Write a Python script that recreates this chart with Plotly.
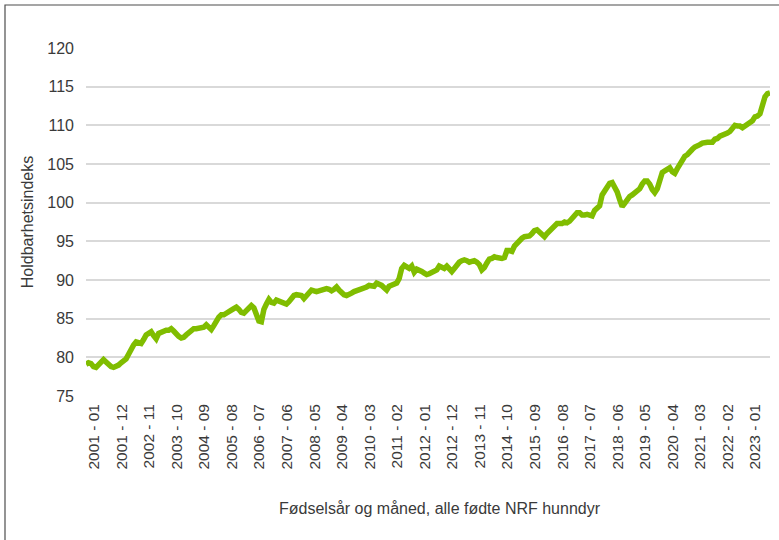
import plotly.graph_objects as go

# Monthly index values, 2001-01 .. 2023-10
values_2001 = [79.1, 79.3, 79.2, 78.8, 78.7, 79.1, 79.3, 79.7, 79.4, 79.0, 78.8, 78.7]
values_2002 = [78.8, 79.0, 79.3, 79.5, 79.8, 80.4, 81.1, 81.6, 82.0, 81.9, 81.8, 82.3]
values_2003 = [82.9, 83.1, 83.3, 82.8, 82.4, 83.1, 83.3, 83.4, 83.5, 83.5, 83.7, 83.4]
values_2004 = [83.0, 82.7, 82.5, 82.6, 82.9, 83.2, 83.6, 83.7, 83.7, 83.8, 83.9, 83.9]
values_2005 = [84.2, 84.0, 83.6, 84.1, 84.8, 85.2, 85.5, 85.5, 85.7, 86.0, 86.1, 86.3]
values_2006 = [86.5, 86.2, 85.8, 85.7, 86.1, 86.5, 86.7, 86.4, 85.3, 84.7, 84.6, 86.2]
values_2007 = [86.9, 87.5, 87.1, 87.0, 87.4, 87.3, 87.2, 87.0, 86.9, 87.2, 87.6, 88.0]
values_2008 = [88.1, 88.0, 88.0, 87.6, 87.9, 88.3, 88.7, 88.6, 88.5, 88.6, 88.7, 88.8]
values_2009 = [88.9, 88.8, 88.6, 88.8, 89.1, 88.7, 88.3, 88.1, 88.0, 88.1, 88.3, 88.5]
values_2010 = [88.6, 88.7, 88.8, 88.9, 89.1, 89.3, 89.3, 89.2, 89.6, 89.5, 89.3, 89.0]
values_2011 = [88.7, 89.2, 89.4, 89.5, 89.6, 90.2, 91.5, 91.9, 91.7, 91.5, 91.8, 91.0]
values_2012 = [91.4, 91.3, 91.1, 90.9, 90.7, 90.8, 91.0, 91.2, 91.3, 91.8, 91.7, 91.5]
values_2013 = [91.8, 91.5, 91.1, 91.5, 92.0, 92.3, 92.5, 92.6, 92.5, 92.3, 92.4, 92.5]
values_2014 = [92.3, 92.0, 91.3, 91.6, 92.2, 92.7, 92.8, 93.0, 92.9, 92.8, 92.8, 92.9]
values_2015 = [93.8, 93.8, 93.7, 94.4, 94.8, 95.1, 95.4, 95.6, 95.6, 95.7, 96.0, 96.4]
values_2016 = [96.5, 96.2, 95.9, 95.6, 96.0, 96.3, 96.7, 97.1, 97.3, 97.3, 97.3, 97.5]
values_2017 = [97.4, 97.6, 97.9, 98.3, 98.7, 98.7, 98.4, 98.4, 98.5, 98.4, 98.3, 99.0]
values_2018 = [99.4, 99.6, 101.0, 101.5, 102.0, 102.5, 102.6, 102.1, 101.4, 100.4, 99.5, 99.9]
values_2019 = [100.5, 100.8, 101.0, 101.2, 101.4, 101.8, 102.4, 102.8, 102.8, 102.4, 101.7, 101.3]
values_2020 = [101.8, 103.0, 103.9, 104.1, 104.3, 104.5, 104.0, 103.8, 104.4, 105.0, 105.6, 106.0]
values_2021 = [106.2, 106.7, 106.9, 107.2, 107.3, 107.5, 107.7, 107.8, 107.8, 107.8, 107.8, 108.2]
values_2022 = [108.3, 108.6, 108.7, 108.8, 109.0, 109.2, 109.6, 110.0, 109.9, 109.9, 109.7, 109.9]
values_2023 = [110.2, 110.3, 110.6, 111.1, 111.2, 111.5, 112.5, 113.7, 114.1, 114.2]

yearly = [values_2001, values_2002, values_2003, values_2004, values_2005, values_2006,
          values_2007, values_2008, values_2009, values_2010, values_2011, values_2012,
          values_2013, values_2014, values_2015, values_2016, values_2017, values_2018,
          values_2019, values_2020, values_2021, values_2022, values_2023]

months = []
index_values = []
for k, vals in enumerate(yearly):
    for m, v in enumerate(vals):
        months.append(f"{2001 + k} - {m + 1:02d}")
        index_values.append(v)

tick_labels = ["2001 - 01", "2001 - 12", "2002 - 11", "2003 - 10", "2004 - 09", "2005 - 08",
               "2006 - 07", "2007 - 06", "2008 - 05", "2009 - 04", "2010 - 03", "2011 - 02",
               "2012 - 01", "2012 - 12", "2013 - 11", "2014 - 10", "2015 - 09", "2016 - 08",
               "2017 - 07", "2018 - 06", "2019 - 05", "2020 - 04", "2021 - 03", "2022 - 02",
               "2023 - 01"]
y_ticks = [75, 80, 85, 90, 95, 100, 105, 110, 115, 120]

text_color = "#3a3a3a"
font_family = "Liberation Sans, Arial, sans-serif"

fig = go.Figure(go.Scatter(
    x=months,
    y=index_values,
    mode="lines",
    line=dict(color="#80bd00", width=5.5),
    hoverinfo="x+y",
))

fig.update_layout(
    width=779,
    height=540,
    margin=dict(l=86, r=9, t=48, b=144),
    paper_bgcolor="white",
    plot_bgcolor="white",
    showlegend=False,
    font=dict(family=font_family, size=16, color=text_color),
    xaxis=dict(
        type="category",
        range=[0, len(months) - 1],
        tickmode="array",
        tickvals=tick_labels,
        ticktext=tick_labels,
        tickangle=-90,
        tickfont=dict(size=15.5, color=text_color),
        ticklabelshift=8,
        ticklabelstandoff=4,
        showgrid=False,
        showline=False,
        zeroline=False,
        ticks="",
    ),
    yaxis=dict(
        range=[75, 120],
        tickvals=y_ticks,
        tickfont=dict(size=16, color=text_color),
        ticklabelstandoff=11,
        showgrid=True,
        gridcolor="#d9d9d9",
        gridwidth=2,
        zeroline=False,
        showline=False,
        ticks="",
        title=dict(text="Holdbarhetsindeks", font=dict(size=16, color=text_color), standoff=9),
    ),
)

# x-axis title sits a little right of the plot centre in the original
fig.add_annotation(text="Fødselsår og måned, alle fødte NRF hunndyr",
                   xref="paper", yref="paper", x=(440 - 86) / 684, y=(396 - 508) / 348,
                   xanchor="center", yanchor="middle", showarrow=False,
                   font=dict(size=16, color=text_color))

# thin frame around the whole chart (the right and bottom edges fall outside the image)
fig.add_shape(type="rect", xref="paper", yref="paper",
              x0=(5 - 86) / 684, x1=(785 - 86) / 684,
              y0=(396 - 545) / 348, y1=(396 - 5) / 348,
              line=dict(color="#4d4d4d", width=1.2), fillcolor="rgba(0,0,0,0)", layer="below")

# drop the default page margin so the chart sits flush in the window
fig.write_html("out.html", config={"displayModeBar": False},
               post_script="document.body.style.margin='0';")
